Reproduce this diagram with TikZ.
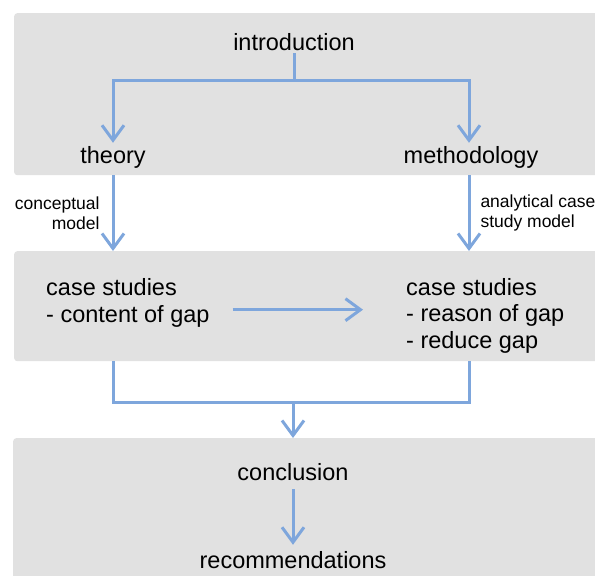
\documentclass[tikz,border=0pt]{standalone}
\usepackage{fontspec}
\setmainfont{Liberation Sans}
\usetikzlibrary{arrows.meta}

\definecolor{flowblue}{RGB}{126,166,220}
\definecolor{panelgray}{RGB}{225,225,225}

\tikzset{
  panel/.style={fill=panelgray, rounded corners=3pt, inner sep=0pt, anchor=north west},
  big/.style={font=\fontsize{23.5}{26.5}\selectfont, inner sep=3pt},
  small/.style={font=\fontsize{17.5}{20}\selectfont, inner sep=0pt},
  link/.style={draw=flowblue, line width=3pt},
  flow/.style={link, -{Straight Barb[length=15pt,width=22pt]}},
}

\begin{document}
\begin{tikzpicture}[x=1pt,y=-1pt]
    \clip (0,0) rectangle (595,576);
    % grey bands
    \node[panel, minimum width=600pt, minimum height=162pt] (toppanel) at (14,13) {};
    \node[panel, minimum width=600pt, minimum height=110pt] (midpanel) at (14,251) {};
    \node[panel, minimum width=600pt, minimum height=160pt] (botpanel) at (13,438) {};

    \node[big, anchor=base] (intro) at (294,50) {introduction};
    \node[big, anchor=base] (theory) at (113,163) {theory};
    \node[big, anchor=base] (method) at (471,163) {methodology};
    % base = last line
    \node[big, anchor=base west, align=left] (cs1) at (43,322) {case studies\\- content of gap};
    \node[big, anchor=base west, align=left] (cs2) at (403,348) {case studies\\- reason of gap\\- reduce gap};
    \node[big, anchor=base] (concl) at (293,480) {conclusion};
    \node[big, anchor=base] (recom) at (293,568) {recommendations};

    \coordinate (split) at (294,80);
    \draw[link] (intro) -- (split);
    \draw[flow] (split) -| (theory.north);
    \draw[flow] (split) -| ([xshift=-2pt]method.north);

    \draw[flow] (theory |- toppanel.south) -- node[small, left=12pt, align=right] {conceptual\\model} (theory |- midpanel.north);
    \draw[flow] ([xshift=-2pt]method.south |- toppanel.south) -- node[small, right=10pt, align=left] {analytical case\\study model} ([xshift=-2pt]method.north |- midpanel.north);

    \draw[flow, shorten <=20pt, shorten >=40pt] ([yshift=-7pt]cs1.east) -- ([yshift=-7pt]cs1.east -| cs2.west);

    \coordinate (merge) at (293,402);
    \draw[link] (theory |- midpanel.south) |- (merge) -| ([xshift=-2pt]method.south |- midpanel.south);
    \draw[flow] (merge) -- (merge |- botpanel.north);

    \draw[flow, shorten <=6pt, shorten >=3pt] (concl) -- (recom);
\end{tikzpicture}
\end{document}
